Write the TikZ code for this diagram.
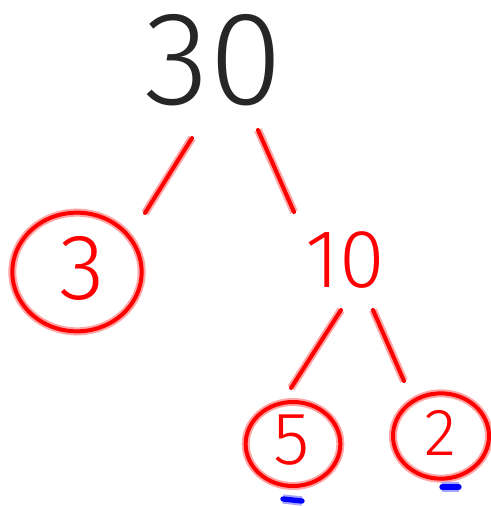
\documentclass[tikz,border=0pt]{standalone}
\usepackage{fontspec}
\setmainfont{Fira Sans}[UprightFont=* Light]
\usepackage{tikz}
\usetikzlibrary{shapes.geometric}

\begin{document}
\begin{tikzpicture}[x=0.75pt,y=-0.75pt,
  redpen/.style={draw=red, line width=3pt, line cap=round, preaction={draw=red!35, line width=6pt}},
  bluepen/.style={draw=blue, line width=4pt, line cap=round, preaction={draw=blue!35, line width=7pt}},
  ring/.style={ellipse, redpen, inner sep=0pt},
  num/.style={inner sep=0pt}]
% albero dei fattori di 30
\useasboundingbox (0,0) rectangle (491,506);

\node[num, text=black!85] (n30) at (214,60) {\fontsize{100}{100}\selectfont 30};

\node[ring, minimum width=97pt, minimum height=89pt] (n3) at (77,272) {};
\node[num, text=red] (t3) at (82,268) {\fontsize{70}{70}\selectfont 3};

\node[num, text=red] (n10) at (345,260) {\fontsize{62}{62}\selectfont 10};

\node[ring, minimum width=71pt, minimum height=63pt] (n5) at (293,444) {};
\node[num, text=red] (t5) at (292,440) {\fontsize{56}{56}\selectfont 5};

\node[ring, minimum width=72pt, minimum height=64pt] (n2) at (441,436) {};
\node[num, text=red] (t2) at (440,433) {\fontsize{50}{50}\selectfont 2};

% rami
\coordinate (a1) at (192,138);
\coordinate (a2) at (145,213);
\coordinate (b1) at (258,130);
\coordinate (b2) at (294,212);
\coordinate (c1) at (341,310);
\coordinate (c2) at (291,388);
\coordinate (d1) at (373,310);
\coordinate (d2) at (404,381);

\draw[redpen] (a1) -- (a2);
\draw[redpen] (b1) -- (b2);
\draw[redpen] (c1) -- (c2);
\draw[redpen] (d1) -- (d2);

% segni sotto i fattori primi
\coordinate (m5l) at (283,499);
\coordinate (m5r) at (302,501);
\coordinate (m2l) at (442,487);
\coordinate (m2r) at (459,487);
\draw[bluepen] (m5l) -- (m5r);
\draw[bluepen] (m2l) -- (m2r);
\end{tikzpicture}
\end{document}
